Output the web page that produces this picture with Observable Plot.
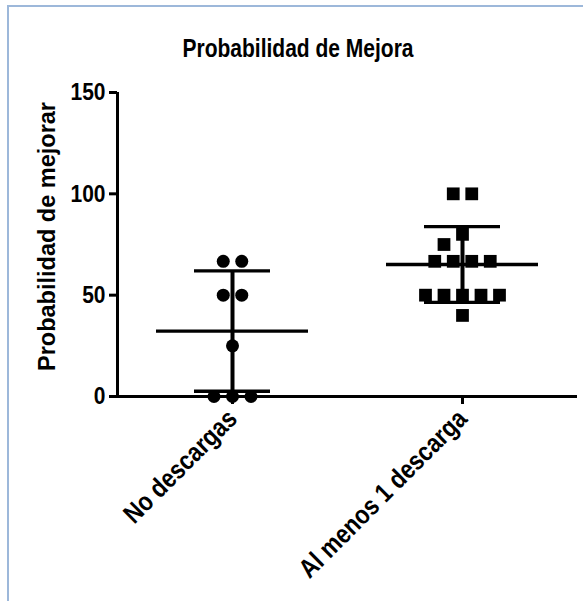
<!DOCTYPE html>
<html>
<head>
<meta charset="utf-8">
<script src="https://cdn.jsdelivr.net/npm/d3@7"></script>
<script src="https://cdn.jsdelivr.net/npm/@observablehq/plot@0.6"></script>
<style>
  html, body { margin: 0; padding: 0; background: #fff; }
  #wrap { position: relative; width: 583px; height: 601px; overflow: hidden; font-family: "Liberation Sans", Arial, sans-serif; }
  #border { position: absolute; left: 7px; top: 5px; width: 700px; height: 700px; border-left: 2px solid #9db8da; border-top: 2px solid #9db8da; }
  #title { position: absolute; left: 0; width: 596px; top: 35px; text-align: center; font-size: 21px; font-weight: bold; line-height: 26px; color: #000; transform: scaleY(1.26); }
  #chart { position: absolute; left: 0; top: 0; }
</style>
</head>
<body>
<div id="wrap">
  <div id="border"></div>
  <div id="chart"></div>
  <div id="title"></div>
</div>
<script>
// ---- data ----
const title = "Probabilidad de Mejora";
const yLabel = "Probabilidad de mejorar";
const groups = ["No descargas", "Al menos 1 descarga"];
const noDescargas = [66.7, 66.7, 50, 50, 25, 0, 0, 0];
const alMenos1Descarga = [100, 100, 80, 75, 66.7, 66.7, 66.7, 66.7, 50, 50, 50, 50, 50, 40];
const yTicks = [0, 50, 100, 150];
const symbols = ["circle", "square"];

// ---- layout ----
const W = 583, H = 601;
const M = {top: 92, right: 6, bottom: 205, left: 117};
const xDomain = [0.5, groups.length + 0.5];
const yDomain = [0, 150];
const pxPerY = (H - M.top - M.bottom) / (yDomain[1] - yDomain[0]);
const pxPerX = (W - M.left - M.right) / (xDomain[1] - xDomain[0]);
const markSize = 13, step = 18.5;
const textStretch = 1.18;

// column-scatter layout: equal values share a row centred on the group, rows shifted to avoid overlap
function scatterOffsets(values) {
  const rows = d3.groups(values.map((v, i) => ({v, i})), d => d.v).sort((a, b) => b[0] - a[0]);
  const placed = [];
  const out = new Array(values.length).fill(0);
  for (const [v, items] of rows) {
    const n = items.length;
    const base = items.map((_, k) => (k - (n - 1) / 2) * step);
    const shifts = [0];
    for (let k = 1; k <= 10; k++) shifts.push(-k * step / 2, k * step / 2);
    for (const s of shifts) {
      const xs = base.map(b => b + s);
      const ok = xs.every(x => placed.every(p => Math.abs(p.x - x) >= markSize || Math.abs(p.y - v * pxPerY) >= markSize));
      if (ok) {
        xs.forEach((x, k) => { out[items[k].i] = x; placed.push({x, y: v * pxPerY}); });
        break;
      }
    }
  }
  return out;
}

const series = [noDescargas, alMenos1Descarga];
const points = [];
const stats = [];
series.forEach((vals, gi) => {
  const offs = scatterOffsets(vals);
  vals.forEach((v, k) => points.push({group: groups[gi], x: gi + 1 + offs[k] / pxPerX, value: v, symbol: symbols[gi]}));
  const mean = d3.mean(vals), sd = d3.deviation(vals);
  stats.push({gx: gi + 1, mean, lo: mean - sd, hi: mean + sd});
});

const meanHalf = 76 / pxPerX, capHalf = 38 / pxPerX;

const chart = Plot.plot({
  width: W, height: H,
  marginTop: M.top, marginRight: M.right, marginBottom: M.bottom, marginLeft: M.left,
  style: {fontFamily: "'Liberation Sans', Arial, sans-serif", background: "transparent", color: "#000"},
  x: {type: "linear", domain: xDomain, axis: null},
  y: {domain: yDomain, axis: null},
  symbol: {type: "identity"},
  marks: [
    Plot.dot(points.filter(d => d.symbol === "circle"), {x: "x", y: "value", r: 6.5, fill: "#000", symbol: "symbol"}),
    Plot.dot(points.filter(d => d.symbol === "square"), {x: "x", y: "value", r: 7.2, fill: "#000", symbol: "symbol"}),
    Plot.ruleX(stats, {x: "gx", y1: "lo", y2: "hi", stroke: "#000", strokeWidth: 4}),
    Plot.ruleY(stats, {y: "mean", x1: d => d.gx - meanHalf, x2: d => d.gx + meanHalf, stroke: "#000", strokeWidth: 3.3}),
    Plot.ruleY(stats, {y: "lo", x1: d => d.gx - capHalf, x2: d => d.gx + capHalf, stroke: "#000", strokeWidth: 3.3}),
    Plot.ruleY(stats, {y: "hi", x1: d => d.gx - capHalf, x2: d => d.gx + capHalf, stroke: "#000", strokeWidth: 3.3}),
    Plot.ruleY([yDomain[0]], {stroke: "#000", strokeWidth: 3}),
    Plot.ruleX([xDomain[0]], {stroke: "#000", strokeWidth: 3}),
    Plot.axisY({ticks: yTicks, tickSize: 8, tickPadding: 4, strokeWidth: 3, stroke: "#000", label: null, fontSize: 21, fontWeight: "bold"}),
    Plot.axisX({ticks: groups.map((_, i) => i + 1), tickFormat: i => groups[i - 1], tickRotate: -45, tickSize: 8, tickPadding: 10, strokeWidth: 3, stroke: "#000", label: null, fontSize: 22.5, fontWeight: "bold"}),
    Plot.text([yLabel], {frameAnchor: "left", textAnchor: "middle", rotate: -90, dx: -70, dy: -8, fontSize: 23.5, fontWeight: "bold", fill: "#000", ariaLabel: "y-label"})
  ]
});

// the reference's tick lettering is taller than it is wide: stretch it vertically
chart.querySelectorAll("text").forEach(t => {
  const tr = t.getAttribute("transform") || "";
  if (/rotate\(-90/.test(tr)) return;
  if (/rotate\(-45/.test(tr)) {
    t.setAttribute("transform", `${tr} scale(1,${textStretch})`);
  } else if (/^\s*translate\([^)]*\)/.test(tr)) {
    t.setAttribute("transform", tr.replace(/^(\s*translate\([^)]*\))/, `$1 scale(1,${textStretch})`));
  } else {
    const x = +t.getAttribute("x") || 0, y = +t.getAttribute("y") || 0;
    t.removeAttribute("x"); t.removeAttribute("y");
    t.setAttribute("transform", `translate(${x},${y}) scale(1,${textStretch}) ${tr}`);
  }
});

document.getElementById("chart").appendChild(chart);
document.getElementById("title").textContent = title;
</script>
</body>
</html>
